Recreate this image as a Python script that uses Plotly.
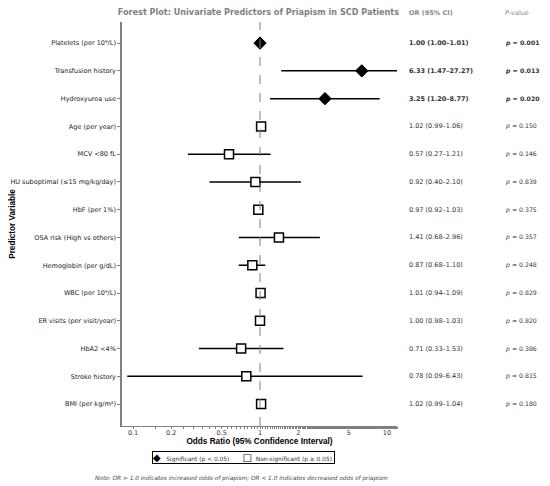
import plotly.graph_objects as go

# predictors, top to bottom
labels = ["Platelets (per 10⁹/L)", "Transfusion history", "Hydroxyurea use", "Age (per year)",
          "MCV <80 fL", "HU suboptimal (≤15 mg/kg/day)", "HbF (per 1%)", "OSA risk (High vs others)",
          "Hemoglobin (per g/dL)", "WBC (per 10⁹/L)", "ER visits (per visit/year)", "HbA2 <4%",
          "Stroke history", "BMI (per kg/m²)"]
odds = [1.00, 6.33, 3.25, 1.02, 0.57, 0.92, 0.97, 1.41, 0.87, 1.01, 1.00, 0.71, 0.78, 1.02]
lower = [1.00, 1.47, 1.20, 0.99, 0.27, 0.40, 0.92, 0.68, 0.68, 0.94, 0.98, 0.33, 0.09, 0.99]
upper = [1.01, 27.27, 8.77, 1.06, 1.21, 2.10, 1.03, 2.96, 1.10, 1.09, 1.03, 1.53, 6.43, 1.04]
pvals = [0.001, 0.013, 0.020, 0.150, 0.146, 0.839, 0.375, 0.357, 0.248, 0.829, 0.820, 0.386, 0.815, 0.180]
xticks = [0.1, 0.2, 0.5, 1, 2, 5, 10]

rows = list(range(len(labels)))
sig = [p < 0.05 for p in pvals]

fig = go.Figure()

# CI lines
cx, cy = [], []
for i in rows:
    cx += [lower[i], upper[i], None]
    cy += [i, i, None]
fig.add_trace(go.Scatter(x=cx, y=cy, mode="lines", line=dict(color="black", width=1.5),
                         showlegend=False, hoverinfo="skip"))

fig.add_trace(go.Scatter(x=[odds[i] for i in rows if sig[i]], y=[i for i in rows if sig[i]],
                         mode="markers", name="Significant (p < 0.05)", showlegend=False,
                         marker=dict(symbol="diamond", size=9.5, color="black",
                                     line=dict(color="black", width=1))))
fig.add_trace(go.Scatter(x=[odds[i] for i in rows if not sig[i]], y=[i for i in rows if not sig[i]],
                         mode="markers", name="Non-significant (p ≥ 0.05)", showlegend=False,
                         marker=dict(symbol="square", size=9, color="white",
                                     line=dict(color="black", width=1.5))))

fig.add_vline(x=1, line=dict(color="gray", width=1, dash="dash"))

# OR / p-value columns
for i in rows:
    ortxt = f"{odds[i]:.2f} ({lower[i]:.2f}–{upper[i]:.2f})"
    ptxt = f"<i>p</i> = {pvals[i]:.3f}"
    if sig[i]:
        ortxt = "<b>" + ortxt + "</b>"
        ptxt = "<b>" + ptxt + "</b>"
    fig.add_annotation(x=1.04, y=i, xref="paper", yref="y", text=ortxt, showarrow=False,
                       xanchor="left", yanchor="middle", borderpad=0,
                       font=dict(size=6.5, color="#333", family="DejaVu Sans"))
    fig.add_annotation(x=1.39, y=i, xref="paper", yref="y", text=ptxt, showarrow=False,
                       xanchor="left", yanchor="middle", borderpad=0,
                       font=dict(size=6.2, color="#333", family="DejaVu Sans"))

fig.add_annotation(x=1.04, y=1.0223, xref="paper", yref="paper", text="<b>OR (95% CI)</b>",
                   showarrow=False, xanchor="left", yanchor="middle", borderpad=0,
                   font=dict(size=6.5, color="#888", family="DejaVu Sans"))
fig.add_annotation(x=1.39, y=1.0223, xref="paper", yref="paper", text="<i>P</i>-value",
                   showarrow=False, xanchor="left", yanchor="middle", borderpad=0,
                   font=dict(size=6.5, color="#888", family="DejaVu Sans"))

# legend box
fig.add_annotation(x=0.44, y=-0.078, xref="paper", yref="paper", showarrow=False,
                   xanchor="center", yanchor="middle",
                   text=("<span style='font-size:10px;color:black'>◆</span>   Significant (p < 0.05)"
                         "       <span style='font-size:10px;color:black'>□</span>  Non-significant (p ≥ 0.05) "),
                   bordercolor="black", borderwidth=1, borderpad=0, bgcolor="white",
                   font=dict(size=5.9, color="#333", family="DejaVu Sans"))

fig.add_annotation(x=0.436, y=-0.131, xref="paper", yref="paper", xanchor="center", yanchor="middle",
                   text="<i>Note: OR > 1.0 indicates increased odds of priapism; OR < 1.0 indicates decreased odds of priapism</i>",
                   showarrow=False, font=dict(size=5.8, color="#444", family="DejaVu Sans"))

# the page body adds an 8px offset, so the figure is drawn 8px smaller
fig.update_layout(
    width=542, height=478,
    margin=dict(l=114, r=153, t=14, b=60),
    plot_bgcolor="white", paper_bgcolor="white",
    showlegend=False,
    title=dict(text="<b>Forest Plot: Univariate Predictors of Priapism in SCD Patients</b>",
               x=0.462, xanchor="center", y=0.997, yanchor="top", pad=dict(t=0, b=0),
               font=dict(size=8.1, color="#7f7f7f", family="DejaVu Sans")),
    font=dict(family="DejaVu Sans", color="#222"),
)
fig.update_xaxes(type="log", range=[-1.087, 1.079], tickvals=xticks, ticktext=[str(t) for t in xticks],
                 showline=True, linecolor="gray", linewidth=1, ticks="outside", ticklen=2,
                 tickcolor="gray", tickfont=dict(size=6.5, color="#333"), showgrid=False, zeroline=False,
                 minor=dict(ticks="outside", ticklen=2, tickcolor="gray", showgrid=False),
                 automargin=False, ticklabelstandoff=-2,
                 title=dict(text="<b>Odds Ratio (95% Confidence Interval)</b>", standoff=0,
                            font=dict(size=8.2, color="black", family="Liberation Sans")))
fig.update_yaxes(range=[13.79, -0.76], tickvals=rows, ticktext=labels,
                 showline=True, linecolor="gray", linewidth=1.5, ticks="outside", ticklen=3,
                 tickcolor="gray", tickfont=dict(size=6.5, color="#222"), showgrid=False, zeroline=False,
                 automargin=False,
                 title=dict(text="<b>Predictor Variable</b>", standoff=4,
                            font=dict(size=8.2, color="black", family="Liberation Sans")))

fig.write_html("out.html")
